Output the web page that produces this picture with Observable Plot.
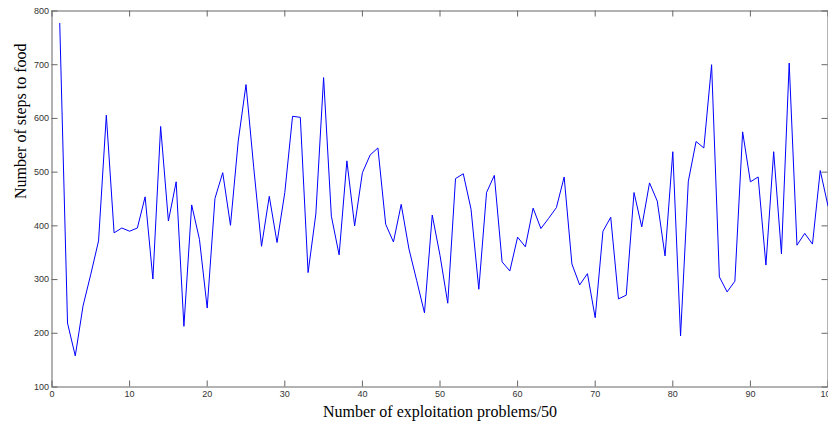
<!DOCTYPE html>
<html>
<head>
<meta charset="utf-8">
<script src="https://cdn.jsdelivr.net/npm/d3@7"></script>
<script src="https://cdn.jsdelivr.net/npm/@observablehq/plot@0.6"></script>
<style>
  html, body { margin: 0; padding: 0; background: #fff; }
  #chart svg { display: block; }
</style>
</head>
<body>
<div id="chart"></div>
<script>
// Problem index (1..100) and steps to food
const problems = d3.range(1, 101);
const steps = [
  777, 219, 158, 251, 310, 372, 606, 387, 396, 390,
  396, 454, 301, 585, 409, 482, 213, 439, 375, 247,
  451, 499, 401, 558, 663, 508, 362, 455, 369, 462,
  604, 602, 313, 422, 676, 418, 346, 521, 400, 499,
  532, 545, 403, 370, 440, 357, 298, 238, 420, 345,
  256, 488, 497, 431, 282, 462, 494, 333, 316, 379,
  361, 433, 395, 414, 434, 491, 329, 290, 311, 229,
  390, 416, 264, 271, 462, 398, 480, 446, 344, 538,
  195, 483, 557, 545, 700, 305, 277, 297, 575, 482,
  491, 327, 538, 348, 703, 364, 386, 366, 503, 437
];
const xTicks = [0, 10, 20, 30, 40, 50, 60, 70, 80, 90, 100];
const yTicks = [100, 200, 300, 400, 500, 600, 700, 800];
const xLabel = "Number of exploitation problems/50";
const yLabel = "Number of steps to food";

const data = problems.map((p, i) => ({x: p, y: steps[i]}));

const W = 828, H = 421;
const mL = 51.5, mR = 0.5, mT = 10.5, mB = 34.5;
const innerH = H - mT - mB, innerW = W - mL - mR;
const tk = 6;
const frameColor = "#666";

const chart = Plot.plot({
  width: W,
  height: H,
  marginLeft: mL,
  marginRight: mR,
  marginTop: mT,
  marginBottom: mB,
  style: {background: "#fff", overflow: "visible"},
  x: {domain: [0, 100]},
  y: {domain: [100, 800]},
  marks: [
    // inward ticks on all four sides
    Plot.tickX(xTicks, {x: d => d, insetTop: innerH - tk, stroke: frameColor}),
    Plot.tickX(xTicks, {x: d => d, insetBottom: innerH - tk, stroke: frameColor}),
    Plot.tickY(yTicks, {y: d => d, insetRight: innerW - tk, stroke: frameColor}),
    Plot.tickY(yTicks, {y: d => d, insetLeft: innerW - tk, stroke: frameColor}),
    Plot.frame({stroke: frameColor}),
    Plot.axisX(xTicks, {tickSize: 0, tickPadding: 4, label: null, fontSize: 9,
      fontFamily: "Liberation Sans, Arial, sans-serif", fill: "#333"}),
    Plot.axisY(yTicks, {tickSize: 0, tickPadding: 3, label: null, fontSize: 9,
      fontFamily: "Liberation Sans, Arial, sans-serif", fill: "#333"}),
    Plot.line(data, {x: "x", y: "y", stroke: "#0000ff", strokeWidth: 1}),
    Plot.text([xLabel], {frameAnchor: "bottom", text: d => d, dy: 25, lineAnchor: "middle",
      fontSize: 16, fontFamily: "Liberation Serif, Times New Roman, serif", fill: "#000"}),
    Plot.text([yLabel], {frameAnchor: "left", text: d => d, dx: -31, rotate: -90, lineAnchor: "middle",
      fontSize: 16, fontFamily: "Liberation Serif, Times New Roman, serif", fill: "#000"})
  ]
});
document.getElementById("chart").appendChild(chart);
</script>
</body>
</html>
